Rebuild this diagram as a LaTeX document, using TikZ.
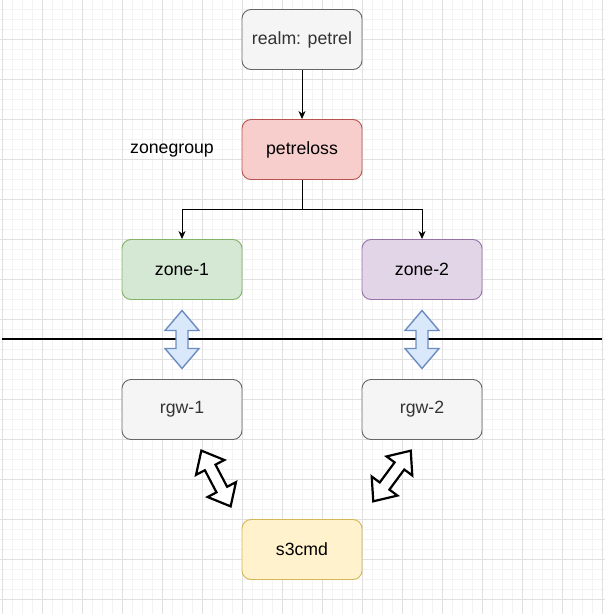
\documentclass[tikz,border=0pt]{standalone}
\usepackage{fontspec}
\setmainfont{Liberation Sans}
\usetikzlibrary{arrows.meta,calc}
\definecolor{gridminor}{HTML}{F3F3F3}
\definecolor{gridmajor}{HTML}{E0E0E0}
\definecolor{greyfill}{HTML}{F5F5F5}
\definecolor{greystroke}{HTML}{666666}
\definecolor{greytext}{HTML}{333333}
\definecolor{redfill}{HTML}{F8CECC}
\definecolor{redstroke}{HTML}{B85450}
\definecolor{greenfill}{HTML}{D5E8D4}
\definecolor{greenstroke}{HTML}{82B366}
\definecolor{purplefill}{HTML}{E1D5E7}
\definecolor{purplestroke}{HTML}{9673A6}
\definecolor{yellowfill}{HTML}{FFF2CC}
\definecolor{yellowstroke}{HTML}{D6B656}
\definecolor{bluefill}{HTML}{DAE8FC}
\definecolor{bluestroke}{HTML}{6C8EBF}
\tikzset{
  box/.style={rectangle, rounded corners=9pt, minimum width=120pt, minimum height=60pt,
    inner sep=0pt, line width=0.9pt, font=\fontsize{17.7pt}{20pt}\selectfont},
  greybox/.style={box, draw=greystroke, fill=greyfill, text=greytext},
  redbox/.style={box, draw=redstroke, fill=redfill, text=black},
  greenbox/.style={box, draw=greenstroke, fill=greenfill, text=black},
  purplebox/.style={box, draw=purplestroke, fill=purplefill, text=black},
  yellowbox/.style={box, draw=yellowstroke, fill=yellowfill, text=black},
  label/.style={inner sep=0pt, font=\fontsize{17.7pt}{20pt}\selectfont, text=black},
  edge/.style={draw=black, line width=1pt, -{Stealth[length=8pt,width=7pt,inset=2.5pt]}},
  bluearrow/.style={draw=bluestroke, fill=bluefill, line width=1.4pt, line join=miter},
  blackarrow/.style={draw=black, fill=white, line width=2.2pt, line join=miter},
}
% double arrow along local x axis: half length, half head width, half shaft width, head length
\newcommand{\dblarrow}[5]{%
  \path[#5] (-#1,0) -- (-#1+#4,#2) -- (-#1+#4,#3) -- (#1-#4,#3) -- (#1-#4,#2) -- (#1,0)
    -- (#1-#4,-#2) -- (#1-#4,-#3) -- (-#1+#4,-#3) -- (-#1+#4,-#2) -- cycle;}
\begin{document}
\begin{tikzpicture}[x=1pt,y=-1pt]
  \useasboundingbox (0,0) rectangle (605,614);
  \fill[white] (0,0) rectangle (605,614);
  % grid
  \foreach \i in {0,...,60} {
    \draw[gridminor, line width=0.6pt] ({2+10*\i},0) -- ({2+10*\i},614);
    \draw[gridminor, line width=0.6pt] (0,{-0.5+10*\i}) -- (605,{-0.5+10*\i});
  }
  \foreach \i in {0,...,15} {
    \draw[gridmajor, line width=0.8pt] ({2+40*\i},0) -- ({2+40*\i},614);
    \draw[gridmajor, line width=0.8pt] (0,{-0.5+40*\i}) -- (605,{-0.5+40*\i});
  }
  % nodes
  \node[greybox]   (realm) at (302,39.5)  {realm: petrel};
  \node[redbox]    (zg)    at (302,149.5) {petreloss};
  \node[label]     (zglabel) at (172,150.5) {zonegroup};
  \node[greenbox]  (zone1) at (182,269.5) {zone-1};
  \node[purplebox] (zone2) at (422,269.5) {zone-2};
  \node[greybox]   (rgw1)  at (182,409.5) {rgw-1};
  \node[greybox]   (rgw2)  at (422,409.5) {rgw-2};
  \node[yellowbox] (s3)    at (302,549.5) {s3cmd};
  % edges
  \draw[edge] (realm.south) -- (zg.north);
  \draw[edge] (zg.south) -- ++(0,30) -| (zone1.north);
  \draw[edge] (zg.south) -- ++(0,30) -| (zone2.north);
  % separator line
  \coordinate (lineL) at (2,339);
  \coordinate (lineR) at (602,339);
  \draw[black, line width=2pt] (lineL) -- (lineR);
  % block double arrows
  \coordinate (a1) at ($(zone1.south)!0.5!(rgw1.north)$);
  \coordinate (a2) at ($(zone2.south)!0.5!(rgw2.north)$);
  \begin{scope}[shift={(a1)}, rotate=90]
    \dblarrow{29}{17}{6}{20}{bluearrow}
  \end{scope}
  \begin{scope}[shift={(a2)}, rotate=90]
    \dblarrow{29}{17}{6}{20}{bluearrow}
  \end{scope}
  \coordinate (b1) at (216,478.5);
  \coordinate (b2) at (392,476);
  \begin{scope}[shift={(b1)}, rotate=-62.3]
    \dblarrow{31.5}{16}{6}{19}{blackarrow}
  \end{scope}
  \begin{scope}[shift={(b2)}, rotate=53.5]
    \dblarrow{31.5}{16}{6}{19}{blackarrow}
  \end{scope}
\end{tikzpicture}
\end{document}
